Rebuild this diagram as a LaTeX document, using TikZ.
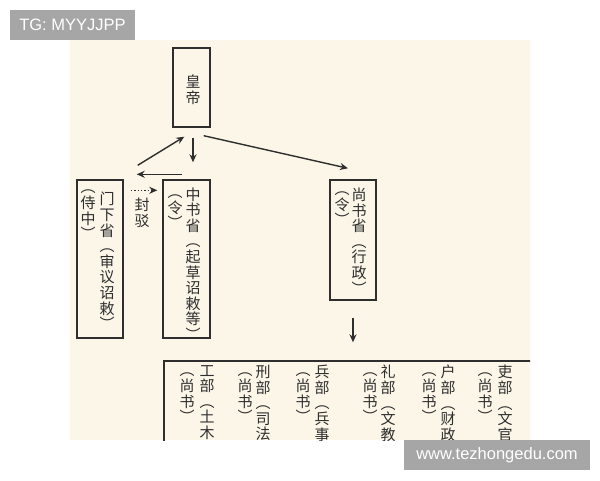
\documentclass[tikz,border=0pt]{standalone}
\usepackage{fontspec}
\usetikzlibrary{arrows.meta}
\newfontfamily\cjk{Noto Sans CJK SC}
\newfontfamily\lab{Liberation Sans}
\definecolor{cream}{HTML}{FBF6E8}
\definecolor{ink}{HTML}{2E2E2E}
\definecolor{tag}{HTML}{A6A6A6}
\tikzset{
  box/.style={rectangle, draw=ink, line width=1.4pt, inner sep=0pt},
  vcol/.style={font=\cjk\fontsize{15pt}{15.6pt}\selectfont, text=ink, align=center, inner sep=0pt},
  arr/.style={draw=ink, line width=1.4pt, -{Stealth[length=8pt,width=7pt]}},
  tagbox/.style={fill=tag, text=white, font=\lab\fontsize{16.5pt}{18pt}\selectfont, inner sep=0pt}
}

\begin{document}
\begin{tikzpicture}[x=1pt, y=-1pt]
		\useasboundingbox (0,0) rectangle (600,480);
		\fill [cream] (70,40) rectangle (530,440);
		
		\node (emperor) [box, minimum width=37pt, minimum height=79pt] at (191.5,87.5) {};
		\node (hd) [vcol] at (193,90) {皇\\帝};
		
		\node (menxia) [box, minimum width=46pt, minimum height=158pt] at (100,259) {};
		\node (mxa) [vcol] at (107,261) {门\\下\\省\\︵\\审\\议\\诏\\敕\\︶};
		\node (mxb) [vcol] at (88,215) {︵\\侍\\中\\︶};
		
		\node (zhongshu) [box, minimum width=47pt, minimum height=158pt] at (186.5,259) {};
		\node (zsa) [vcol] at (193,264) {中\\书\\省\\︵\\起\\草\\诏\\敕\\等\\︶};
		\node (zsb) [vcol] at (175,212) {︵\\令\\︶};
		
		\node (fengbo) [vcol] at (142,213) {封\\驳};
		
		\node (shangshu) [box, minimum width=46pt, minimum height=120pt] at (353,240) {};
		\node (ssa) [vcol] at (359,241) {尚\\书\\省\\︵\\行\\政\\︶};
		\node (ssb) [vcol] at (342,209) {︵\\令\\︶};
		
		\begin{scope}
		\clip (70,40) rectangle (530,440);
		\node (liubu) [box, minimum width=381pt, minimum height=109pt] at (354.5,415.5) {};
		\node (gong) [vcol, anchor=north] at (207,365) {工\\部\\︵\\土\\木};
		\node (gongb) [vcol] at (187,398) {︵\\尚\\书\\︶};
		\node (xing) [vcol, anchor=north] at (263,365) {刑\\部\\︵\\司\\法};
		\node (xingb) [vcol] at (245,398) {︵\\尚\\书\\︶};
		\node (bing) [vcol, anchor=north] at (322,365) {兵\\部\\︵\\兵\\事};
		\node (bingb) [vcol] at (303,398) {︵\\尚\\书\\︶};
		\node (li) [vcol, anchor=north] at (388,365) {礼\\部\\︵\\文\\教};
		\node (lib) [vcol] at (370,398) {︵\\尚\\书\\︶};
		\node (hu) [vcol, anchor=north] at (448,365) {户\\部\\︵\\财\\政};
		\node (hub) [vcol] at (429,398) {︵\\尚\\书\\︶};
		\node (lii) [vcol, anchor=north] at (505,365) {吏\\部\\︵\\文\\官};
		\node (liib) [vcol] at (485,398) {︵\\尚\\书\\︶};
		\end{scope}
		
		\draw [arr] ([shift={(1.5,10)}]emperor.south) -- ([shift={(6.5,-17)}]zhongshu.north);
		\draw [arr] ([shift={(14,-14)}]menxia.north east) -- ([shift={(12,9)}]emperor.south west);
		\draw [arr] ([shift={(-7,8)}]emperor.south east) -- ([shift={(-5,-11)}]shangshu.north);
		\draw [arr] ([shift={(-4.5,-5)}]zhongshu.north) -- ([shift={(13,-5)}]menxia.north east);
		\draw [arr, dotted, line width=1pt] ([shift={(7,11)}]menxia.north east) -- ([shift={(-5,11)}]zhongshu.north west);
		\draw [arr] ([shift={(0,17)}]shangshu.south) -- ([shift={(0,-18)}]shangshu.south |- liubu.north);
		
		\node (tg) [tagbox, minimum width=125pt, minimum height=30pt] at (72.5,25) {TG: MYYJJPP};
		\node (site) [tagbox, minimum width=186pt, minimum height=30pt] at (497,455) {www.tezhongedu.com};
		
\end{tikzpicture}
\end{document}
